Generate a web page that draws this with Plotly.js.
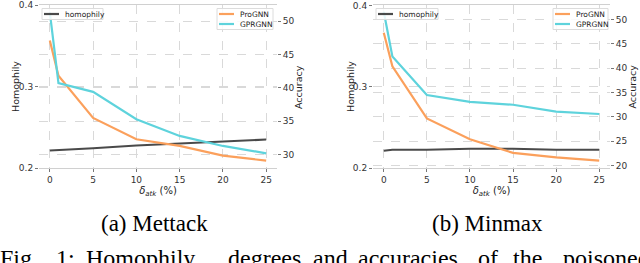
<!DOCTYPE html>
<html><head><meta charset="utf-8">
<script src="https://cdn.plot.ly/plotly-3.0.1.min.js"></script>
<style>html,body{margin:0;padding:0;background:#fff}#c{width:640px;height:263px}</style>
</head><body><div id="c"></div>
<script>
const budgets = [0, 1, 5, 10, 15, 20, 25];
// (a) Mettack
const mettackHomophily = [0.2214, 0.2218, 0.2242, 0.2275, 0.2300, 0.2329, 0.2349];
const mettackProGNN = [47.1, 41.8, 35.5, 32.3, 31.3, 29.85, 29.1];
const mettackGPRGNN = [51.3, 40.7, 39.4, 35.3, 32.8, 31.3, 30.2];
// (b) Minmax
const minmaxHomophily = [0.2214, 0.2226, 0.2226, 0.2238, 0.2238, 0.2226, 0.2226];
const minmaxProGNN = [47.3, 40.4, 29.7, 25.4, 22.6, 21.7, 21.0];
const minmaxGPRGNN = [51.6, 42.4, 34.5, 33.1, 32.5, 31.1, 30.6];
const seriesNames = ['homophily', 'ProGNN', 'GPRGNN'];
const captions = ["(a) Mettack", "(b) Minmax"];
const figWords = ["Fig.", "1:", "Homophily", "degrees", "and", "accuracies", "of", "the", "poisoned"];

const W = 640, H = 263;
const cOr = '#FBA05C', cCy = '#5ED3DC', cHo = '#4a4a4a';
const font = {family: 'DejaVu Sans', size: 9, color: '#333'};
const gridC = '#d9d9d9';
const px = v => v / W, py = v => 1 - v / H;

function xa(dom) {
  return {domain: dom, range: [-1.25, 26.25], tickvals: [0,5,10,15,20,25], showgrid: true,
    gridcolor: gridC, griddash: 'dash', gridwidth: 1, zeroline: false, showline: true, mirror: true,
    linecolor: '#d0d0d0', linewidth: 1, ticks: 'outside', ticklen: 3, tickcolor: '#777',
    tickfont: font, title: {text: '<i>δ</i><sub><i>atk</i></sub> (%)', font: {family: 'DejaVu Sans', size: 10, color: '#222'}, standoff: 0}};
}
function yl(range) {
  return {domain: [py(168), py(5)], range: range, tickvals: [0.2, 0.3, 0.4], ticktext: ['0.2','0.3','0.4'],
    showgrid: true, gridcolor: gridC, griddash: 'dash', zeroline: false, showline: false,
    ticks: 'outside', ticklen: 3, tickcolor: '#777', tickfont: font};
}
function yr(range, anchor, over, vals) {
  return {domain: [py(168), py(5)], range: range, side: 'right', overlaying: over, anchor: anchor,
    tickvals: vals, showgrid: true, gridcolor: gridC, griddash: 'dash', zeroline: false, showline: false,
    ticks: 'outside', ticklen: 3, tickcolor: '#777', tickfont: font};
}
const data = [
  {x: budgets, y: mettackHomophily, xaxis: 'x', yaxis: 'y', name: seriesNames[0], mode: 'lines', line: {color: cHo, width: 2}},
  {x: budgets, y: mettackProGNN, xaxis: 'x', yaxis: 'y2', name: seriesNames[1], mode: 'lines', line: {color: cOr, width: 2.2}},
  {x: budgets, y: mettackGPRGNN, xaxis: 'x', yaxis: 'y2', name: seriesNames[2], mode: 'lines', line: {color: cCy, width: 2.2}},
  {x: budgets, y: minmaxHomophily, xaxis: 'x2', yaxis: 'y3', name: seriesNames[0], mode: 'lines', line: {color: cHo, width: 2}},
  {x: budgets, y: minmaxProGNN, xaxis: 'x2', yaxis: 'y4', name: seriesNames[1], mode: 'lines', line: {color: cOr, width: 2.2}},
  {x: budgets, y: minmaxGPRGNN, xaxis: 'x2', yaxis: 'y4', name: seriesNames[2], mode: 'lines', line: {color: cCy, width: 2.2}}
];

const shapes = [], annotations = [];
const lfont = {family: 'DejaVu Sans', size: 7.5, color: '#222'};
function legendBox(x0, x1, y0, y1, items) {
  shapes.push({type: 'rect', xref: 'paper', yref: 'paper', x0: px(x0), x1: px(x1), y0: py(y1), y1: py(y0),
    fillcolor: 'rgba(255,255,255,0.85)', line: {color: '#dcdcdc', width: 1}, layer: 'above'});
  items.forEach(it => {
    shapes.push({type: 'line', xref: 'paper', yref: 'paper', x0: px(x0 + 2), x1: px(x0 + 17), y0: py(it.y), y1: py(it.y),
      line: {color: it.color, width: 2.2}, layer: 'above'});
    annotations.push({text: it.name, xref: 'paper', yref: 'paper', x: px(x0 + 22), y: py(it.y), xanchor: 'left', yanchor: 'middle',
      showarrow: false, font: lfont, borderpad: 0});
  });
}
legendBox(42, 103, 8.5, 19.5, [{name: seriesNames[0], color: cHo, y: 14}]);
legendBox(217, 273, 8.5, 29.5, [{name: seriesNames[1], color: cOr, y: 14}, {name: seriesNames[2], color: cCy, y: 24}]);
legendBox(376, 438, 8.5, 19.5, [{name: seriesNames[0], color: cHo, y: 14}]);
legendBox(553, 608, 8.5, 29.5, [{name: seriesNames[1], color: cOr, y: 14}, {name: seriesNames[2], color: cCy, y: 24}]);

// y-axis titles
const tfont = {family: 'DejaVu Sans', size: 9.5, color: '#222'};
[[15, 'Homophily'], [298, 'Accuracy'], [350, 'Homophily'], [631.5, 'Accuracy']].forEach(([x, t]) => {
  annotations.push({text: t, x: px(x), y: py(87), xref: 'paper', yref: 'paper', xanchor: 'center', yanchor: 'middle',
    textangle: -90, showarrow: false, font: tfont, borderpad: 0});
});

const capFont = {family: 'Liberation Serif', size: 23, color: '#000'};
annotations.push({text: captions[0], x: px(154), y: py(223), xref: 'paper', yref: 'paper', showarrow: false, xanchor: 'center', yanchor: 'middle', font: capFont});
annotations.push({text: captions[1], x: px(487), y: py(223), xref: 'paper', yref: 'paper', showarrow: false, xanchor: 'center', yanchor: 'middle', font: capFont});
const wordX = [-1, 55, 85, 227, 312, 357, 477, 512, 562];
figWords.forEach((w, i) => {
  annotations.push({text: w, x: px(wordX[i]), y: py(244), xref: 'paper', yref: 'paper', xanchor: 'left', yanchor: 'top',
    showarrow: false, font: {family: 'Liberation Serif', size: 24, color: '#000'}, borderpad: 0});
});

const layout = {
  width: W, height: H, margin: {l: 0, r: 0, t: 0, b: 0}, paper_bgcolor: '#fff', plot_bgcolor: '#fff',
  showlegend: false,
  xaxis: xa([px(39), px(277)]),
  yaxis: Object.assign(yl([0.2, 0.4]), {anchor: 'x'}),
  yaxis2: yr([28.0, 52.4], 'x', 'y', [30, 35, 40, 45, 50]),
  xaxis2: Object.assign(xa([px(373), px(610)]), {anchor: 'y3'}),
  yaxis3: Object.assign(yl([0.2, 0.401]), {anchor: 'x2'}),
  yaxis4: yr([19.5, 53.0], 'x2', 'y3', [20, 25, 30, 35, 40, 45, 50]),
  shapes: shapes,
  annotations: annotations
};
Plotly.newPlot('c', data, layout, {displayModeBar: false, staticPlot: true});
</script></body></html>
